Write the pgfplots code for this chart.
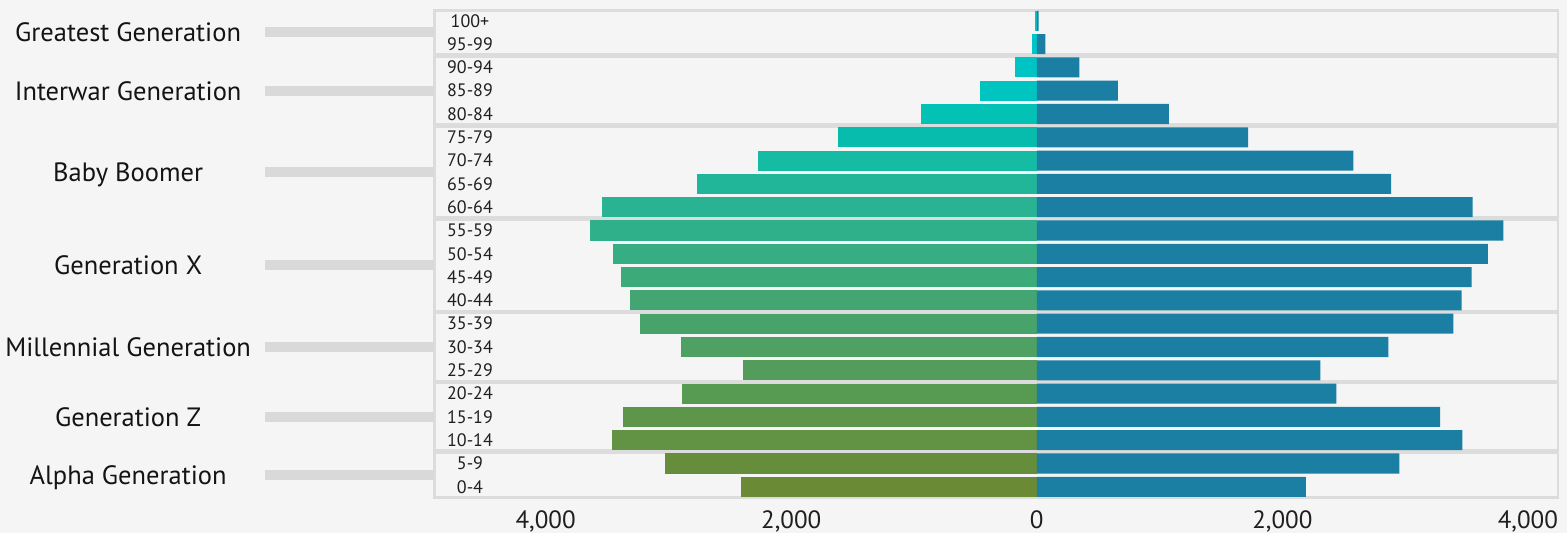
\documentclass[border=0pt]{standalone}
\usepackage{fontspec}
\setmainfont{PT Sans}
\usepackage{pgfplots}
\pgfplotsset{compat=1.18}
\definecolor{bg}{HTML}{F5F5F5}
\definecolor{boxc}{HTML}{DCDCDC}
\definecolor{conn}{HTML}{D9D9D9}
\definecolor{male}{HTML}{1A7FA3}
\definecolor{c0}{HTML}{6A8A36}
\definecolor{c1}{HTML}{668D3C}
\definecolor{c2}{HTML}{629243}
\definecolor{c3}{HTML}{5D954A}
\definecolor{c4}{HTML}{579A52}
\definecolor{c5}{HTML}{539C5B}
\definecolor{c6}{HTML}{4EA063}
\definecolor{c7}{HTML}{48A36B}
\definecolor{c8}{HTML}{43A672}
\definecolor{c9}{HTML}{3DAA79}
\definecolor{c10}{HTML}{36AD82}
\definecolor{c11}{HTML}{30B08A}
\definecolor{c12}{HTML}{2AB392}
\definecolor{c13}{HTML}{21B69A}
\definecolor{c14}{HTML}{16BBA4}
\definecolor{c15}{HTML}{08BCAD}
\definecolor{c16}{HTML}{03C1B5}
\definecolor{c17}{HTML}{00C4C0}
\definecolor{c18}{HTML}{00C4C4}
\definecolor{c19}{HTML}{00C4C6}
\definecolor{c20}{HTML}{00C4C6}
\pgfplotsset{bb/.style={xbar, bar width=0.86, bar shift=0pt, draw=none, forget plot}}
\begin{document}
\begin{tikzpicture}[x=1pt,y=1pt]
\fill[bg] (0,0) rectangle (1567,533);
\useasboundingbox (0,0) rectangle (1567,533);
\begin{axis}[
  at={(434.5pt,34.55pt)}, anchor=south west,
  scale only axis, width=1123.5pt, height=489.3pt,
  xmin=-4905, xmax=4245, ymin=-0.5, ymax=20.5,
  clip=false,
  axis line style={draw=none}, tick style={draw=none},
  xtick={-4000,-2000,0,2000,4000},
  xticklabels={{4,000\hspace{14pt}},{2,000\hspace{16pt}},{0\hspace{2pt}},{2,000\hspace{16pt}},{4,000\hspace{14pt}}},
  xticklabel style={anchor=base, yshift=-30pt, font=\fontsize{25}{30}\selectfont, text=black!88},
  ytick={0,...,20},
  yticklabels={0-4,5-9,10-14,15-19,20-24,25-29,30-34,35-39,40-44,45-49,50-54,55-59,60-64,65-69,70-74,75-79,80-84,85-89,90-94,95-99,100+},
  yticklabel style={anchor=center, xshift=35.5pt, font=\fontsize{18}{21}\selectfont, text=black!88},
]
% group boxes
\draw[boxc, line width=2.5pt] (axis cs:-4905,-0.45) rectangle (axis cs:4245,1.45);
\draw[boxc, line width=2.5pt] (axis cs:-4905,1.55) rectangle (axis cs:4245,4.45);
\draw[boxc, line width=2.5pt] (axis cs:-4905,4.55) rectangle (axis cs:4245,7.45);
\draw[boxc, line width=2.5pt] (axis cs:-4905,7.55) rectangle (axis cs:4245,11.45);
\draw[boxc, line width=2.5pt] (axis cs:-4905,11.55) rectangle (axis cs:4245,15.45);
\draw[boxc, line width=2.5pt] (axis cs:-4905,15.55) rectangle (axis cs:4245,18.45);
\draw[boxc, line width=2.5pt] (axis cs:-4905,18.55) rectangle (axis cs:4245,20.45);
% left (female) bars, one per age group
\addplot[bb, fill=c0]  coordinates {(-2408,0)};
\addplot[bb, fill=c1]  coordinates {(-3024,1)};
\addplot[bb, fill=c2]  coordinates {(-3461,2)};
\addplot[bb, fill=c3]  coordinates {(-3366,3)};
\addplot[bb, fill=c4]  coordinates {(-2886,4)};
\addplot[bb, fill=c5]  coordinates {(-2394,5)};
\addplot[bb, fill=c6]  coordinates {(-2897,6)};
\addplot[bb, fill=c7]  coordinates {(-3230,7)};
\addplot[bb, fill=c8]  coordinates {(-3312,8)};
\addplot[bb, fill=c9]  coordinates {(-3385,9)};
\addplot[bb, fill=c10] coordinates {(-3448,10)};
\addplot[bb, fill=c11] coordinates {(-3640,11)};
\addplot[bb, fill=c12] coordinates {(-3542,12)};
\addplot[bb, fill=c13] coordinates {(-2766,13)};
\addplot[bb, fill=c14] coordinates {(-2270,14)};
\addplot[bb, fill=c15] coordinates {(-1618,15)};
\addplot[bb, fill=c16] coordinates {(-945,16)};
\addplot[bb, fill=c17] coordinates {(-464,17)};
\addplot[bb, fill=c18] coordinates {(-174,18)};
\addplot[bb, fill=c19] coordinates {(-38,19)};
\addplot[bb, fill=c20] coordinates {(-14,20)};
% right (male) bars
\addplot[bb, fill=male] coordinates {
(2191,0) (2953,1) (3466,2) (3284,3) (2440,4) (2309,5) (2863,6) (3392,7)
(3461,8) (3542,9) (3673,10) (3800,11) (3550,12) (2885,13) (2578,14)
(1721,15) (1075,16) (660,17) (347,18) (70,19) (16,20)};
% generation labels and connectors
\draw[conn, line width=10pt] (axis cs:-6285,19.5) -- (axis cs:-4905,19.5);
\draw[conn, line width=10pt] (axis cs:-6285,17) -- (axis cs:-4905,17);
\draw[conn, line width=10pt] (axis cs:-6285,13.5) -- (axis cs:-4905,13.5);
\draw[conn, line width=10pt] (axis cs:-6285,9.5) -- (axis cs:-4905,9.5);
\draw[conn, line width=10pt] (axis cs:-6285,6) -- (axis cs:-4905,6);
\draw[conn, line width=10pt] (axis cs:-6285,3) -- (axis cs:-4905,3);
\draw[conn, line width=10pt] (axis cs:-6285,0.5) -- (axis cs:-4905,0.5);
\tikzset{gl/.style={anchor=base, yshift=-9.5pt, font=\fontsize{26.5}{30}\selectfont, text=black!92}}
\node[gl] at (axis cs:-7400,19.5) {Greatest Generation};
\node[gl] at (axis cs:-7400,17) {Interwar Generation};
\node[gl] at (axis cs:-7400,13.5) {Baby Boomer};
\node[gl] at (axis cs:-7400,9.5) {Generation X};
\node[gl] at (axis cs:-7400,6) {Millennial Generation};
\node[gl] at (axis cs:-7400,3) {Generation Z};
\node[gl] at (axis cs:-7400,0.5) {Alpha Generation};
\end{axis}
\end{tikzpicture}
\end{document}
